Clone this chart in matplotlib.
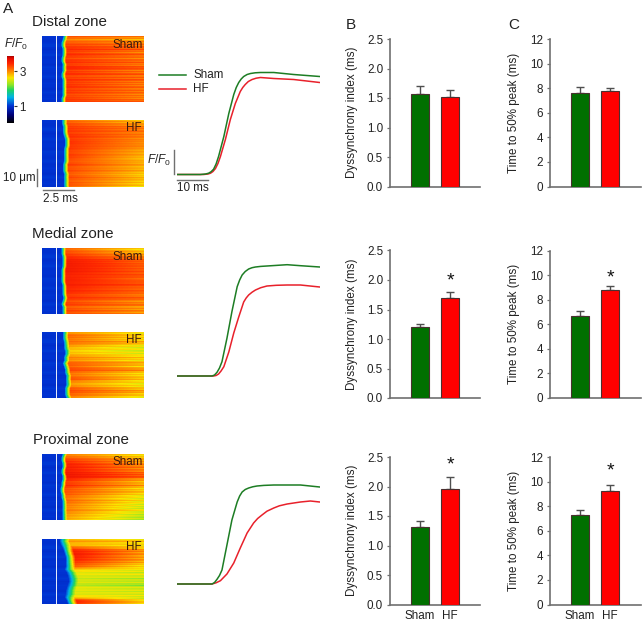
import numpy as np
import matplotlib
matplotlib.use("Agg")
import matplotlib.pyplot as plt
from matplotlib.colors import LinearSegmentedColormap

W, H = 642, 622
plt.rcParams['font.family'] = ['Liberation Sans', 'DejaVu Sans']
plt.rcParams['mathtext.fontset'] = 'custom'
plt.rcParams['mathtext.rm'] = 'Liberation Sans'
plt.rcParams['mathtext.it'] = 'Liberation Sans:italic'
plt.rcParams['mathtext.bf'] = 'Liberation Sans:bold'

# ---------- data ----------
groups = ["Sham", "HF"]
zones = ["Distal zone", "Medial zone", "Proximal zone"]

dyssync_mean = [[1.57, 1.52], [1.20, 1.69], [1.32, 1.96]]
dyssync_err = [[0.13, 0.12], [0.05, 0.10], [0.09, 0.20]]
ttp_mean = [[7.6, 7.75], [6.7, 8.8], [7.3, 9.25]]
ttp_err = [[0.5, 0.3], [0.35, 0.35], [0.4, 0.45]]

# Line profiles: time (ms), height over baseline (arbitrary F/F0 units)
d_sham_t = [0, 7.5, 9.2, 10.2, 11, 11.8, 12.6, 13.4, 15.1, 16.7, 18.3, 19.1, 19.9, 20.7, 21.5, 22.6, 23.7, 25.2, 26.9, 31.2, 37.6, 46]
d_sham_y = [0, 0, 0.5, 1.3, 2.8, 5.3, 10.5, 18, 38, 61, 80, 87, 92, 95.5, 98, 100, 101, 101.7, 102, 102, 100, 98]
d_hf_t = [0, 8.6, 10, 10.8, 11.6, 12.4, 13.2, 14, 15.6, 17.2, 18.8, 20.4, 21.2, 22, 23, 24.2, 25.5, 26.9, 31.2, 37.6, 46]
d_hf_y = [0, 0, 0.5, 1.3, 3, 6, 11, 18, 35, 55, 71, 83, 87, 90, 93, 95, 96.3, 97, 96, 95, 92]
m_sham_t = [0, 11.3, 12.1, 12.9, 13.7, 14.5, 16.1, 17.7, 19.4, 20.2, 21, 22, 23.1, 24.2, 25.3, 27, 29, 35.5, 39.8, 46]
m_sham_y = [0, 0, 1, 3.7, 8, 14.3, 37.7, 64.3, 89.3, 96, 101, 104.5, 107, 108.3, 109, 109.6, 110, 111.3, 110.3, 109]
m_hf_t = [0, 11.8, 12.6, 13.4, 14.2, 15.1, 16.7, 18.3, 19.9, 21.5, 22.3, 23.1, 24.2, 25.3, 27, 29, 32, 35.5, 39.8, 46]
m_hf_y = [0, 0, 0.5, 2, 5, 9.3, 24, 43, 59, 74, 78, 81, 83.8, 86, 88.3, 90, 90.7, 91, 91, 89]
p_sham_t = [0, 11.3, 12.1, 12.9, 13.7, 14.5, 16.1, 17.7, 19.4, 20.2, 21, 22, 23.1, 24.4, 25.8, 28, 31.2, 39.8, 46]
p_sham_y = [0, 0, 1.5, 4.7, 8.5, 14, 39, 64, 82, 88, 92, 94.5, 96, 97.2, 98, 98.6, 99, 99, 97]
p_hf_t = [0, 11.3, 12.6, 14, 16.1, 18.3, 20.4, 22.6, 24.7, 26, 27.4, 29, 31.2, 33, 35.5, 39.8, 43, 46]
p_hf_y = [0, 0, 1.2, 3.3, 10, 21, 36, 51, 61, 65.5, 69, 72.8, 76, 78.2, 80, 82, 83, 82]

# Line-scan images: per scan line, onset time, F/F0 after onset and F/F0 at end
ds_onset = [23, 22, 21, 21, 22, 22, 22, 21, 21, 22, 22, 22, 21, 21, 22, 22, 22, 22, 22, 22, 21, 21]
ds_start = [3.2, 3.0, 3.2, 3.3, 3.4, 3.3, 3.4, 3.25, 3.4, 3.3, 3.45, 3.3, 3.4, 3.25, 3.4, 3.3, 3.4, 3.3, 3.35, 3.25, 3.35, 3.3]
ds_end = [3.0, 2.8, 3.0, 3.1, 3.2, 3.0, 3.15, 3.0, 3.15, 3.05, 3.2, 3.0, 3.15, 3.05, 3.2, 3.0, 3.1, 3.05, 3.1, 3.0, 3.05, 3.1]
dh_onset = [22, 22, 23, 23, 23, 24, 25, 25, 25, 24, 24, 24, 24, 24, 23, 23, 23, 24, 24, 24, 24, 24]
dh_start = [3.1, 3.25, 3.3, 3.35, 3.3, 3.4, 3.3, 3.4, 3.3, 3.35, 3.25, 3.35, 3.3, 3.2, 3.35, 3.2, 3.3, 3.15, 3.3, 3.15, 3.25, 3.15]
dh_end = [2.7, 2.9, 3.0, 3.05, 3.0, 3.05, 2.95, 3.0, 2.9, 2.9, 2.8, 2.85, 2.75, 2.8, 2.85, 2.75, 2.85, 2.65, 2.8, 2.65, 2.7, 2.6]
ms_onset = [21, 21, 21, 22, 22, 22, 22, 21, 21, 21, 21, 21, 22, 22, 22, 22, 23, 22, 21, 22, 22, 22]
ms_start = [3.1, 3.2, 3.3, 3.4, 3.5, 3.55, 3.5, 3.55, 3.5, 3.45, 3.5, 3.45, 3.5, 3.4, 3.45, 3.3, 3.4, 3.2, 3.35, 3.15, 3.3, 3.2]
ms_end = [2.6, 2.7, 2.85, 3.0, 3.15, 3.2, 3.1, 3.2, 3.15, 3.25, 3.1, 3.2, 3.25, 3.1, 3.2, 3.0, 3.2, 2.85, 3.1, 2.85, 3.0, 2.9]
mh_onset = [23, 23, 23, 24, 24, 24, 25, 25, 24, 24, 23, 24, 25, 25, 26, 26, 26, 26, 25, 25, 25, 26]
mh_start = [2.9, 3.15, 3.05, 3.1, 2.95, 2.8, 2.7, 2.8, 3.0, 2.95, 3.2, 3.15, 3.3, 3.1, 3.05, 3.25, 2.95, 2.9, 3.2, 3.25, 3.15, 3.0]
mh_end = [2.55, 2.7, 2.6, 2.85, 2.55, 2.5, 2.45, 2.55, 2.7, 2.6, 2.85, 2.65, 3.0, 2.7, 2.6, 2.75, 2.55, 2.55, 2.75, 2.85, 2.7, 2.55]
ps_onset = [22, 21, 21, 22, 22, 21, 21, 22, 22, 21, 21, 20, 20, 21, 21, 22, 22, 22, 22, 22, 22, 22]
ps_start = [3.0, 3.15, 3.35, 3.45, 3.5, 3.5, 3.55, 3.6, 3.45, 3.3, 3.4, 3.25, 3.2, 3.2, 3.05, 3.15, 3.05, 3.0, 3.05, 2.95, 2.9, 2.85]
ps_end = [2.65, 2.7, 2.85, 2.95, 3.0, 3.0, 3.1, 3.25, 2.9, 2.75, 2.9, 2.65, 2.7, 2.6, 2.45, 2.6, 2.5, 2.4, 2.55, 2.4, 2.35, 2.3]
ph_onset = [22, 22, 23, 25, 26, 27, 28, 28, 28, 28, 27, 29, 30, 31, 31, 30, 29, 28, 28, 27, 29, 30]
ph_start = [2.8, 2.9, 2.75, 3.2, 3.5, 3.55, 3.5, 3.45, 3.3, 3.2, 2.7, 2.55, 2.5, 2.45, 2.5, 2.35, 2.55, 2.5, 2.5, 2.7, 3.45, 3.4]
ph_end = [2.6, 2.7, 2.6, 2.7, 2.95, 2.9, 2.85, 2.9, 2.75, 2.65, 2.5, 2.45, 2.5, 2.35, 2.45, 2.2, 2.45, 2.45, 2.5, 2.45, 2.6, 2.65]
base_line = [1.02, 0.98, 1.0, 1.04, 0.97, 1.0, 1.03, 0.98, 1.01, 0.97, 1.03, 1.0, 0.98, 1.03, 0.97, 1.01, 1.0, 0.97, 1.03, 0.99, 1.01, 0.98]
# fine line-to-line differences along the scan axis
fine_lines = [0.07, -0.04, 0.08, -0.08, 0.02, 0.1, -0.06, -0.01, 0.08, -0.1, 0.04, 0.0, -0.08, 0.09, -0.03, 0.06,
              -0.09, 0.03, 0.08, -0.06, -0.01, 0.07, -0.08, 0.05, 0.01, -0.07, 0.09, -0.04, 0.03, -0.09, 0.06, -0.02, 0.08]

cmap_vals = [0.05, 0.5, 1.0, 1.5, 1.9, 2.2, 2.6, 3.0, 3.4, 3.7, 3.88]
cmap_cols = ['#000000', '#000078', '#0032d2', '#00b4e6', '#1ed264', '#8ce628',
             '#fae600', '#ff8200', '#ff2800', '#e60a00', '#960000']

GREEN, RED = '#007000', '#ff0000'
LGREEN, LRED = '#1d7d24', '#e8212b'
GRAY, TXT = '#707070', '#222222'

# ---------- helpers ----------
fig = plt.figure(figsize=(W / 100, H / 100), dpi=100)


def ax_px(x0, y0, x1, y1):
    return fig.add_axes([x0 / W, 1 - y1 / H, (x1 - x0) / W, (y1 - y0) / H])


def tx(x, y, s, size=8.3, ha='left', va='center', **kw):
    kw.setdefault('color', TXT)
    fig.text(x / W, 1 - y / H, s, fontsize=size, ha=ha, va=va, **kw)


def seg(x0, y0, x1, y1, color=GRAY, lw=1.0):
    fig.add_artist(plt.Line2D([x0 / W, x1 / W], [1 - y0 / H, 1 - y1 / H], color=color, lw=lw))


stops = [(v - cmap_vals[0]) / (cmap_vals[-1] - cmap_vals[0]) for v in cmap_vals]
cmap = LinearSegmentedColormap.from_list('ff0', list(zip(stops, cmap_cols)))
VMIN, VMAX = cmap_vals[0], cmap_vals[-1]
n_img = [0]


def scan(x0, y0, x1, y1, onset, start, end, ramp):
    n = int(x1 - x0)
    t = np.arange(n)
    n_lines = 66
    src = np.linspace(0, 1, len(onset))
    dst = np.linspace(0, 1, n_lines)
    on = np.interp(dst, src, onset)
    st = np.interp(dst, src, start)
    en = np.interp(dst, src, end)
    ba = np.interp(dst, src, base_line)
    shift = n_img[0] * 7
    n_img[0] += 1
    rows = []
    for i in range(n_lines):
        fine = fine_lines[(i + shift) % len(fine_lines)]
        p = np.clip((t - on[i]) / (n - on[i]), 0, 1)
        level = st[i] + (en[i] - st[i]) * p + fine * (0.4 + 0.9 * p)
        w = np.clip((t - on[i] + ramp / 2) / ramp, 0, 1)
        rows.append(ba[i] + (level - ba[i]) * w)
    ax = ax_px(x0, y0, x1, y1)
    ax.imshow(np.array(rows), cmap=cmap, vmin=VMIN, vmax=VMAX, aspect='auto',
              interpolation='bilinear', extent=(0, n, n_lines, 0))
    ax.axvspan(13.7, 15.2, color='white', alpha=0.9, lw=0)
    ax.axis('off')


def bars(x0, x1, y0, y1, means, errs, ymax, yticks, fmt, ylabel, labelx, star, last):
    ax = ax_px(x0, y0, x1, y1)
    pos = [0, 1]
    ax.bar(pos, means, width=0.6, color=[GREEN, RED], edgecolor='#4a3030', linewidth=0.8, zorder=3)
    for p, m, e in zip(pos, means, errs):
        ax.errorbar([p], [m], yerr=[[0], [e]], color='#4f4f4f', capsize=3, lw=1.0, capthick=1.0, zorder=2)
    ax.set_xlim(-1, (x1 - x0) / 30 - 1)
    ax.set_ylim(0, ymax)
    ax.set_yticks(yticks)
    ax.set_yticklabels([fmt.format(v) for v in yticks], fontsize=8.4, color=TXT)
    ax.tick_params(axis='y', length=2.5, width=0.9, color=GRAY, pad=2.5)
    for s in ('top', 'right'):
        ax.spines[s].set_visible(False)
    for s in ('left', 'bottom'):
        ax.spines[s].set_color(GRAY)
        ax.spines[s].set_linewidth(1.2)
    if last:
        ax.set_xticks(pos)
        ax.set_xticklabels(groups, fontsize=8.4, color=TXT)
        ax.tick_params(axis='x', length=0, pad=4)
    else:
        ax.set_xticks([])
    ax.set_ylabel(ylabel, fontsize=8.4, color=TXT)
    ax.yaxis.set_label_coords(labelx, 0.5)
    if star is not None:
        ax.text(1, star, '*', fontsize=14, ha='center', va='center', color='#111111')
    ax.patch.set_alpha(0)


def lines(y_base, y_top, t1, v1, t2, v2):
    ax = ax_px(177, y_top, 320, y_base + 4)
    ax.plot(t2, v2, color=LRED, lw=1.1)
    ax.plot(t1, v1, color=LGREEN, lw=1.1)
    ax.set_xlim(0, 46.1)
    ax.set_ylim(-4, y_base - y_top)
    ax.axis('off')


# ---------- panels ----------
scan(42, 36, 144, 102, ds_onset, ds_start, ds_end, 5)
scan(42, 120, 144, 186.5, dh_onset, dh_start, dh_end, 6)
scan(42, 248, 144, 314.5, ms_onset, ms_start, ms_end, 5)
scan(42, 332, 144, 398, mh_onset, mh_start, mh_end, 6)
scan(42, 454, 144, 520, ps_onset, ps_start, ps_end, 5)
scan(42, 538.5, 144, 604.5, ph_onset, ph_start, ph_end, 10)

lines(174.5, 60, d_sham_t, d_sham_y, d_hf_t, d_hf_y)
lines(376, 250, m_sham_t, m_sham_y, m_hf_t, m_hf_y)
lines(584, 470, p_sham_t, p_sham_y, p_hf_t, p_hf_y)

rows = [(39, 186.5, None, None), (250.5, 398, 1.98, 9.75), (457, 604.5, 2.37, 10.85)]
for i, (yt, yb, s1, s2) in enumerate(rows):
    last = i == 2
    bars(390, 480, yt, yb, dyssync_mean[i], dyssync_err[i], 2.5, [0, 0.5, 1, 1.5, 2, 2.5],
         '{:.1f}', 'Dyssynchrony index (ms)', -0.36, s1, last)
    bars(550, 641, yt, yb, ttp_mean[i], ttp_err[i], 12, [0, 2, 4, 6, 8, 10, 12],
         '{:d}', 'Time to 50% peak (ms)', -0.33, s2, last)

# colour bar
cb = ax_px(7, 55.7, 14, 122.7)
cb.imshow(np.linspace(VMAX, VMIN, 200)[:, None], cmap=cmap, vmin=VMIN, vmax=VMAX,
          aspect='auto', extent=(0, 1, VMIN, VMAX))
cb.set_xticks([])
cb.yaxis.tick_right()
cb.set_yticks([1, 3])
cb.set_yticklabels(['1', '3'], fontsize=8.4, color=TXT)
cb.tick_params(axis='y', length=2.5, width=0.8, color='#333333', pad=1.5)
for s in cb.spines.values():
    s.set_visible(False)
tx(16, 44, r'$F/F_0$', size=8.6, ha='center')

# text and scale bars
tx(3, 9, 'A', size=11)
tx(346, 25, 'B', size=11)
tx(508, 25, 'C', size=11)
tx(32, 21.5, zones[0], size=10.9)
tx(32, 233.5, zones[1], size=10.9)
tx(33, 440.5, zones[2], size=10.9)
for y in (44.5, 257, 462):
    tx(143, y, 'Sham', size=8.4, ha='right', color='#3a1a10')
for y in (128, 340, 547):
    tx(142, y, 'HF', size=8.4, ha='right', color='#3a1a10')

seg(159, 75, 186, 75, LGREEN, 1.1)
seg(159, 89, 186, 89, LRED, 1.1)
tx(193, 75, 'Sham', size=8.4)
tx(193, 89.5, 'HF', size=8.4)

seg(36.7, 169, 36.7, 186)
tx(3, 178, '10 \u03bcm', size=8.4)
seg(43, 189.5, 74, 189.5)
tx(60, 199, '2.5 ms', size=8.4, ha='center')
seg(174, 150, 174, 174)
tx(171.5, 160.5, r'$F/F_0$', size=8.6, ha='right')
seg(177, 179.5, 208, 179.5)
tx(193, 188, '10 ms', size=8.4, ha='center')

fig.savefig('out.png', dpi=100)
